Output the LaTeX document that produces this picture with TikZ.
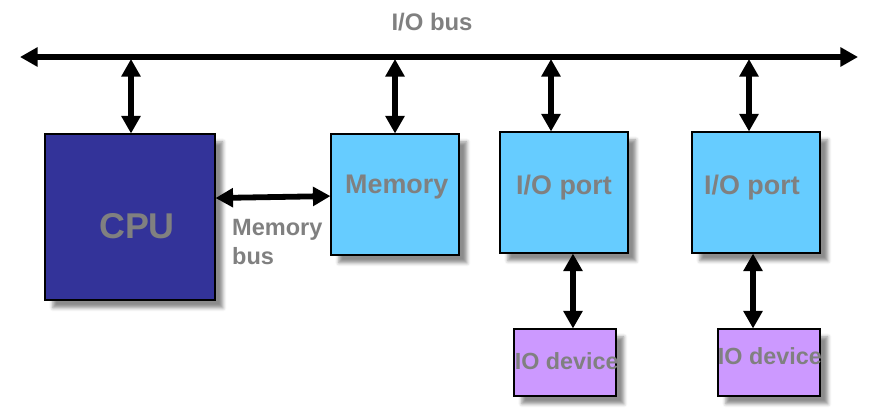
\documentclass[tikz,border=0pt]{standalone}
\usepackage{fontspec}
\setmainfont{Liberation Sans}
\usetikzlibrary{arrows.meta,shadows.blur}

\definecolor{cpublue}{HTML}{333399}
\definecolor{unitblue}{HTML}{66CCFF}
\definecolor{devviolet}{HTML}{CC99FF}
\definecolor{textgray}{HTML}{808080}

\begin{document}
\begin{tikzpicture}[x=0.02cm,y=-0.02cm,
  unit/.style={draw=black,line width=0.6pt,inner sep=0pt,
    blur shadow={shadow xshift=4.5pt,shadow yshift=-4.5pt,
      shadow blur radius=2pt,shadow opacity=45}},
  unittext/.style={text=textgray,font=\bfseries\fontsize{15.3}{18}\selectfont},
  link/.style={line width=3.3pt,
    {Triangle[length=10pt,width=10.5pt]}-{Triangle[length=10pt,width=10.5pt]}}]
\useasboundingbox (0,0) rectangle (878,413);

% title of the bus
\node[text=textgray,font=\bfseries\fontsize{13.6}{16}\selectfont] (title) at (432,22) {I/O bus};

% the units
\node[unit,fill=cpublue,minimum width=3.4cm,minimum height=3.32cm,
  label={[text=textgray,font=\bfseries\fontsize{20.4}{24}\selectfont,xshift=4pt,yshift=-5.1pt]center:CPU}]
  (cpu) at (130,217) {};
\node[unit,fill=unitblue,minimum width=2.56cm,minimum height=2.42cm,
  label={[unittext,xshift=1pt,yshift=4.3pt]center:Memory}]
  (mem) at (395,194.5) {};
\node[unit,fill=unitblue,minimum width=2.56cm,minimum height=2.42cm,
  label={[unittext,yshift=3.1pt]center:I/O port}]
  (port1) at (564,192.5) {};
\node[unit,fill=unitblue,minimum width=2.56cm,minimum height=2.42cm,
  label={[unittext,xshift=-2.3pt,yshift=3.1pt]center:I/O port}]
  (port2) at (756,192.5) {};
\node[unit,fill=devviolet,minimum width=2.04cm,minimum height=1.34cm,
  label={[unittext,font=\bfseries\fontsize{13.3}{16}\selectfont,xshift=1pt,yshift=1pt]center:IO device}]
  (dev1) at (565,362.5) {};
\node[unit,fill=devviolet,minimum width=2.04cm,minimum height=1.34cm,
  label={[unittext,font=\bfseries\fontsize{13.3}{16}\selectfont,xshift=0.5pt,yshift=3.7pt]center:IO device}]
  (dev2) at (769,362.5) {};

% I/O bus
\coordinate (busL) at (20,57);
\coordinate (busR) at (858,57);
\draw[link] (busL) -- (busR);

\coordinate (tap1) at (131,59);
\coordinate (tap2) at (395,59);
\coordinate (tap3) at (551,59);
\coordinate (tap4) at (749,59);
\draw[link] (tap1) -- (tap1 |- cpu.north);
\draw[link] (tap2) -- (tap2 |- mem.north);
\draw[link] (tap3) -- (tap3 |- port1.north);
\draw[link] (tap4) -- (tap4 |- port2.north);

% memory bus
\draw[link] ([yshift=10.8pt]cpu.east) -- ([yshift=-0.9pt]mem.west);
\node[anchor=west,align=left,text=textgray,font=\bfseries\fontsize{13.4}{16.5}\selectfont]
  (membus) at (226,242) {Memory\\bus};

% devices
\draw[link] ([xshift=5.1pt]port1.south) -- ([xshift=5.1pt]port1.south |- dev1.north);
\draw[link] ([xshift=-1.7pt]port2.south) -- ([xshift=-1.7pt]port2.south |- dev2.north);
\end{tikzpicture}
\end{document}
